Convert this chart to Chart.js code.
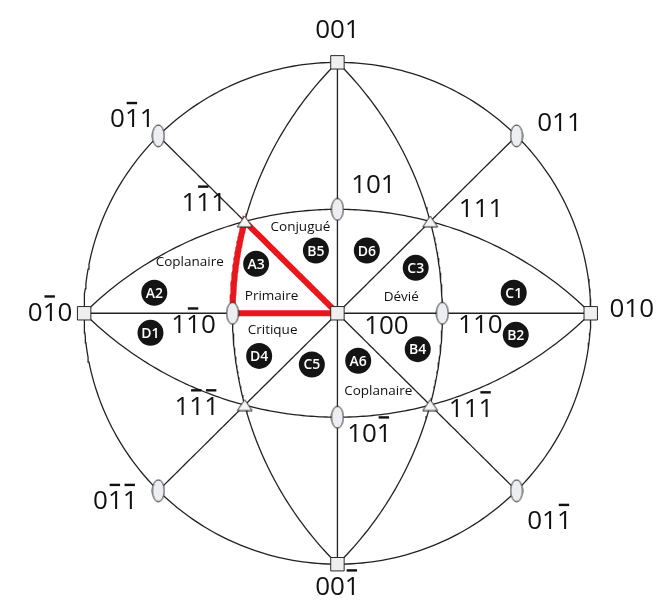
<!DOCTYPE html>
<html>
<head>
<meta charset="utf-8">
<title>Projection stéréographique</title>
<script src="https://cdn.jsdelivr.net/npm/chart.js@4.4.1/dist/chart.umd.min.js"></script>
<style>
    html, body { margin: 0; padding: 0; background: #fff; }
    #wrap { width: 672px; height: 616px; position: relative; }
</style>
</head>
<body>
<div id="wrap"><canvas id="stereo"></canvas></div>
<script>
// Pôles (indices de Miller), [100] au centre de la projection
var poleNames = ['001', '011', '0-11', '1-11', '101', '111', '0-10', '010', '1-10',
                 '100', '110', '1-1-1', '10-1', '11-1', '0-1-1', '01-1', '00-1'];

// Grands cercles : chaque trace passe par ces pôles
var traces = [
    ['001', '010', '00-1', '0-10', '001'],
    ['0-10', '100', '010'],
    ['00-1', '100', '001'],
    ['0-1-1', '100', '011'],
    ['01-1', '100', '0-11'],
    ['001', '110', '00-1'],
    ['001', '1-10', '00-1'],
    ['0-10', '101', '010'],
    ['0-10', '10-1', '010']
];

// Triangle standard (en rouge)
var triangleStandard = ['100', '1-11', '1-10', '100'];

// Systèmes de glissement (pastilles)
var zoneIds = ['A3', 'B5', 'D6', 'C3', 'C1', 'A2', 'D1', 'D4', 'C5', 'A6', 'B4', 'B2'];
var zoneX = [-0.321, -0.085, 0.116, 0.309, 0.696, -0.723, -0.738, -0.309, -0.101, 0.082, 0.317, 0.704];
var zoneY = [0.197, 0.250, 0.250, 0.181, 0.082, 0.082, -0.078, -0.170, -0.204, -0.189, -0.143, -0.086];

// Noms des régions
var regionNames = ['Conjugué', 'Coplanaire', 'Primaire', 'Critique', 'Dévié', 'Coplanaire'];
var regionX = [-0.146, -0.583, -0.260, -0.256, 0.252, 0.161];
var regionY = [0.342, 0.204, 0.067, -0.067, 0.063, -0.311];

// décalage des étiquettes de pôles (px)
var labelOffset = {
    '001': [0, -32], '011': [43, -12], '0-11': [-26, -16], '1-11': [-41, -18],
    '101': [36, -24], '111': [51, -12], '0-10': [-34, 0], '010': [41, -4],
    '1-10': [-39, 12], '100': [49, 13], '110': [38, 12], '1-1-1': [-48, 2],
    '10-1': [32, 17], '11-1': [41, 4], '0-1-1': [-43, 11], '01-1': [33, 31],
    '00-1': [0, 23]
};

var FONT = "'Open Sans', 'DejaVu Sans', sans-serif";

function hkl(name) {
    return name.match(/-?\d/g).map(Number);
}

function normalize(v) {
    var n = Math.sqrt(v[0] * v[0] + v[1] * v[1] + v[2] * v[2]);
    return [v[0] / n, v[1] / n, v[2] / n];
}

// projection stéréographique, pôle [100] au centre
function project(v) {
    var u = normalize(v);
    return { x: u[1] / (1 + u[0]), y: u[2] / (1 + u[0]) };
}

// points le long du grand cercle entre deux pôles
function arc(a, b, steps) {
    var u = normalize(a), w = normalize(b);
    var dot = u[0] * w[0] + u[1] * w[1] + u[2] * w[2];
    var ang = Math.acos(Math.max(-1, Math.min(1, dot)));
    var pts = [];
    for (var i = 0; i <= steps; i++) {
        var t = i / steps;
        var s1 = Math.sin((1 - t) * ang) / Math.sin(ang);
        var s2 = Math.sin(t * ang) / Math.sin(ang);
        pts.push(project([u[0] * s1 + w[0] * s2, u[1] * s1 + w[1] * s2, u[2] * s1 + w[2] * s2]));
    }
    return pts;
}

function tracePoints(names) {
    var pts = [];
    for (var i = 0; i < names.length - 1; i++) {
        var seg = arc(hkl(names[i]), hkl(names[i + 1]), 80);
        if (i > 0) seg.shift();
        pts = pts.concat(seg);
    }
    return pts;
}

function familyOf(name) {
    return hkl(name).filter(function(d) { return d !== 0; }).length;
}

// marqueurs dessinés sur un petit canvas
function markerEllipse(w, h) {
    var c = document.createElement('canvas');
    c.width = w + 2; c.height = h + 2;
    var g = c.getContext('2d');
    g.beginPath();
    g.ellipse(c.width / 2, c.height / 2, w / 2, h / 2, 0, 0, 2 * Math.PI);
    g.fillStyle = '#eceef2';
    g.fill();
    g.lineWidth = 1;
    g.strokeStyle = '#2a2a2a';
    g.stroke();
    return c;
}

function markerTriangle(w, h) {
    var c = document.createElement('canvas');
    c.width = w + 2; c.height = h + 2;
    var g = c.getContext('2d');
    g.beginPath();
    g.moveTo(c.width / 2, 1);
    g.lineTo(c.width - 1, c.height - 1);
    g.lineTo(1, c.height - 1);
    g.closePath();
    g.fillStyle = '#f4f4f4';
    g.fill();
    g.lineWidth = 1;
    g.strokeStyle = '#2a2a2a';
    g.stroke();
    return c;
}

var datasets = [];

traces.forEach(function(t) {
    datasets.push({
        data: tracePoints(t),
        showLine: true,
        borderColor: '#222',
        borderWidth: 1.3,
        pointRadius: 0,
        order: 10
    });
});

datasets.push({
    data: tracePoints(triangleStandard),
    showLine: true,
    borderColor: '#e8161d',
    borderWidth: 6,
    borderJoinStyle: 'miter',
    pointRadius: 0,
    order: 8
});

var families = [
    { n: 1, style: 'rect', radius: 9.5 },
    { n: 2, style: markerEllipse(12, 22), radius: 11 },
    { n: 3, style: markerTriangle(15, 11), radius: 8 }
];
families.forEach(function(f) {
    var names = poleNames.filter(function(p) { return familyOf(p) === f.n; });
    datasets.push({
        data: names.map(function(p) { return project(hkl(p)); }),
        showLine: false,
        pointStyle: f.style,
        pointRadius: f.radius,
        backgroundColor: '#efefef',
        borderColor: '#2a2a2a',
        borderWidth: 1,
        order: 4
    });
});

datasets.push({
    data: zoneIds.map(function(id, i) { return { x: zoneX[i], y: zoneY[i] }; }),
    showLine: false,
    pointRadius: 13,
    backgroundColor: '#141414',
    borderWidth: 0,
    order: 2
});
var zoneDataset = datasets.length - 1;

// étiquette avec barres au-dessus des indices négatifs
function drawIndex(ctx, name, cx, cy) {
    var tokens = name.match(/-?\d/g);
    var widths = tokens.map(function(t) { return ctx.measureText(t.replace('-', '')).width; });
    var total = widths.reduce(function(a, b) { return a + b; }, 0);
    var x = cx - total / 2;
    tokens.forEach(function(t, i) {
        var ch = t.replace('-', '');
        ctx.fillText(ch, x, cy);
        if (t.charAt(0) === '-') {
            ctx.fillRect(x + widths[i] * 0.12, cy - 18, widths[i] * 0.7, 2.4);
        }
        x += widths[i];
    });
}

var labelPlugin = {
    id: 'etiquettes',
    afterDatasetsDraw: function(chart) {
        var ctx = chart.ctx;
        var sx = chart.scales.x, sy = chart.scales.y;
        ctx.save();
        ctx.fillStyle = '#111';
        ctx.textBaseline = 'middle';
        ctx.textAlign = 'left';
        ctx.font = '26px ' + FONT;
        poleNames.forEach(function(p) {
            var q = project(hkl(p));
            var off = labelOffset[p];
            drawIndex(ctx, p, sx.getPixelForValue(q.x) + off[0], sy.getPixelForValue(q.y) + off[1]);
        });

        ctx.textAlign = 'center';
        ctx.font = '13.5px ' + FONT;
        ctx.fillStyle = '#111';
        regionNames.forEach(function(r, i) {
            ctx.fillText(r, sx.getPixelForValue(regionX[i]), sy.getPixelForValue(regionY[i]));
        });

        var meta = chart.getDatasetMeta(zoneDataset);
        ctx.fillStyle = '#fff';
        ctx.font = '600 14px ' + FONT;
        zoneIds.forEach(function(id, i) {
            var el = meta.data[i];
            ctx.fillText(id, el.x, el.y + 1);
        });
        ctx.restore();
    }
};

new Chart(document.getElementById('stereo'), {
    type: 'scatter',
    data: { datasets: datasets },
    options: {
        responsive: true,
        maintainAspectRatio: false,
        animation: false,
        events: [],
        layout: { padding: 0 },
        clip: false,
        plugins: {
            legend: { display: false },
            tooltip: { enabled: false }
        },
        scales: {
            x: { type: 'linear', display: false, min: -1.2808, max: 1.2695 },
            y: { type: 'linear', display: false, min: -1.1546, max: 1.1966 }
        }
    },
    plugins: [labelPlugin]
});
</script>
</body>
</html>
